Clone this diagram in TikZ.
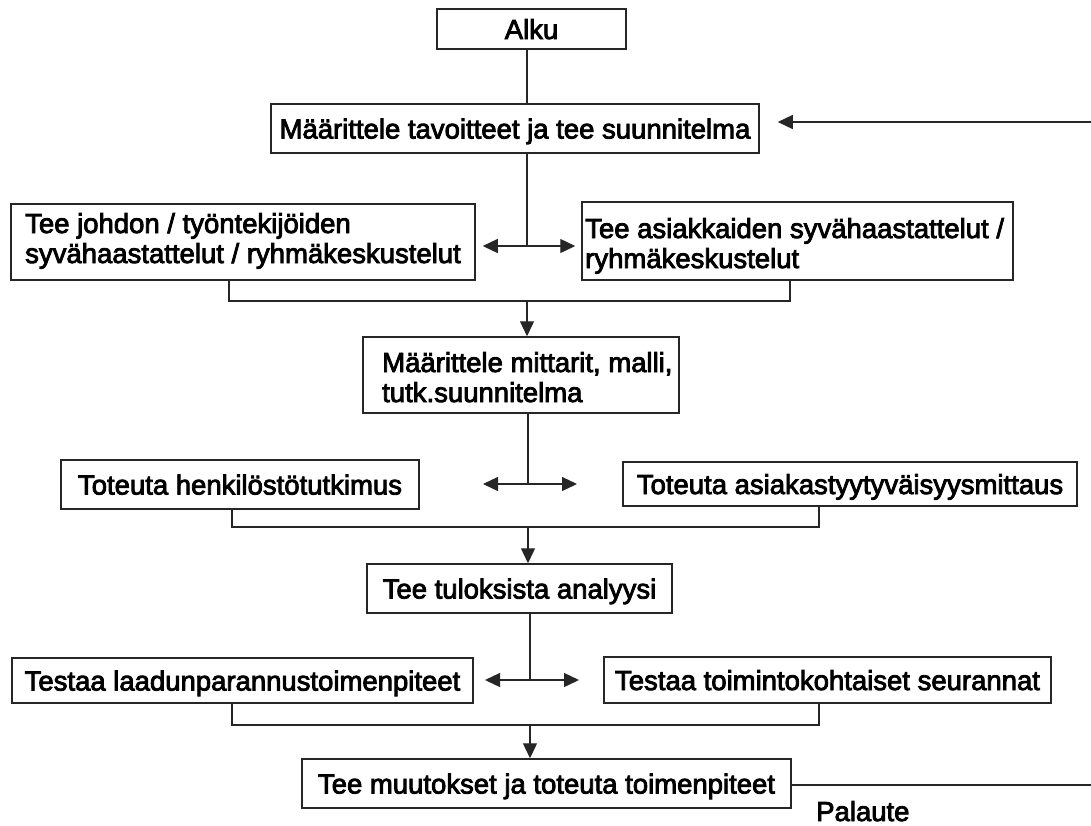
\documentclass[tikz,border=0pt]{standalone}
\usepackage{fontspec}
\setmainfont{Liberation Sans}[FakeBold=3]
\usetikzlibrary{arrows.meta}
\begin{document}
\begin{tikzpicture}[x=1pt,y=-1pt,
  fnt/.style={font=\fontsize{27.5}{30}\selectfont},
  box/.style={draw=black!85, line width=1.5pt, inner sep=0pt, text height=20pt, text depth=0pt, fnt},
  txt/.style={inner sep=0pt, anchor=base west, fnt},
  ln/.style={draw=black!85, line width=1.3pt},
  arr/.style={ln, -{Triangle[length=15pt,width=14pt]}},
  dbl/.style={ln, {Triangle[length=15pt,width=14pt]}-{Triangle[length=15pt,width=14pt]}}]
\useasboundingbox (0,0) rectangle (1091,825);
% boxes
\node[box, minimum width=189pt, minimum height=40pt] (alku) at (531.5,29) {Alku};
\node[box, minimum width=488pt, minimum height=49pt] (goal) at (515,128.5) {Määrittele tavoitteet ja tee suunnitelma};
\node[box, minimum width=464pt, minimum height=76pt] (int1) at (243,242) {};
\node[box, minimum width=431pt, minimum height=78pt] (int2) at (797.5,241) {};
\node[box, minimum width=316pt, minimum height=76pt] (meas) at (521,375) {};
\node[box, minimum width=358pt, minimum height=49pt] (tot1) at (240,484.5) {Toteuta henkilöstötutkimus};
\node[box, minimum width=454pt, minimum height=44pt] (tot2) at (850,484) {Toteuta asiakastyytyväisyysmittaus};
\node[box, minimum width=305pt, minimum height=49pt] (anal) at (519.5,588.5) {Tee tuloksista analyysi};
\node[box, minimum width=461pt, minimum height=45pt] (test1) at (242.5,680.5) {Testaa laadunparannustoimenpiteet};
\node[box, minimum width=447pt, minimum height=46pt] (test2) at (827.5,680) {Testaa toimintokohtaiset seurannat};
\node[box, minimum width=489pt, minimum height=49pt] (chg) at (546.5,783.5) {Tee muutokset ja toteuta toimenpiteet};
% multi-line texts
\node[txt] (int1a) at (25,233) {Tee johdon / työntekijöiden};
\node[txt] (int1b) at (25,263) {syvähaastattelut / ryhmäkeskustelut};
\node[txt] (int2a) at (585,238) {Tee asiakkaiden syvähaastattelut /};
\node[txt] (int2b) at (585,268) {ryhmäkeskustelut};
\node[txt] (measa) at (382,372) {Määrittele mittarit, malli,};
\node[txt] (measb) at (382,402) {tutk.suunnitelma};
\node[txt] (pal) at (816,821) {Palaute};
% coordinates
\coordinate (j1) at (527,246);
\coordinate (s1) at (229,301);
\coordinate (s2) at (790,301);
\coordinate (m1) at (527,301);
\coordinate (j2) at (528,484);
\coordinate (j2l) at (483,484);
\coordinate (j2r) at (577,484);
\coordinate (s3) at (232,527);
\coordinate (s4) at (819,527);
\coordinate (m2) at (528,527);
\coordinate (j3) at (530,680);
\coordinate (j3l) at (485,680);
\coordinate (j3r) at (579,680);
\coordinate (s5) at (232,725);
\coordinate (s6) at (819,725);
\coordinate (m3) at (530,725);
\coordinate (fbB) at (1091,785);
\coordinate (fbT) at (1091,122);
% connectors
\draw[ln] (alku.south -| j1) -- (goal.north -| j1);
\draw[ln] (goal.south -| j1) -- (j1);
\draw[dbl, shorten <=7pt, shorten >=6pt] (int1.east |- j1) -- (int2.west |- j1);
\draw[ln] (int1.south -| s1) -- (s1) -- (s2) -- (int2.south -| s2);
\draw[arr] (m1) -- (meas.north -| m1);
\draw[ln] (meas.south -| j2) -- (j2);
\draw[dbl] (j2l) -- (j2r);
\draw[ln] (tot1.south -| s3) -- (s3) -- (s4) -- (tot2.south -| s4);
\draw[arr] (m2) -- (anal.north -| m2);
\draw[ln] (anal.south -| j3) -- (j3);
\draw[dbl] (j3l) -- (j3r);
\draw[ln] (test1.south -| s5) -- (s5) -- (s6) -- (test2.south -| s6);
\draw[arr] (m3) -- (chg.north -| m3);
\draw[ln] (chg.east |- fbB) -- (fbB);
\draw[arr] (fbT) -- ([xshift=18pt]goal.east |- fbT);
\end{tikzpicture}
\end{document}
